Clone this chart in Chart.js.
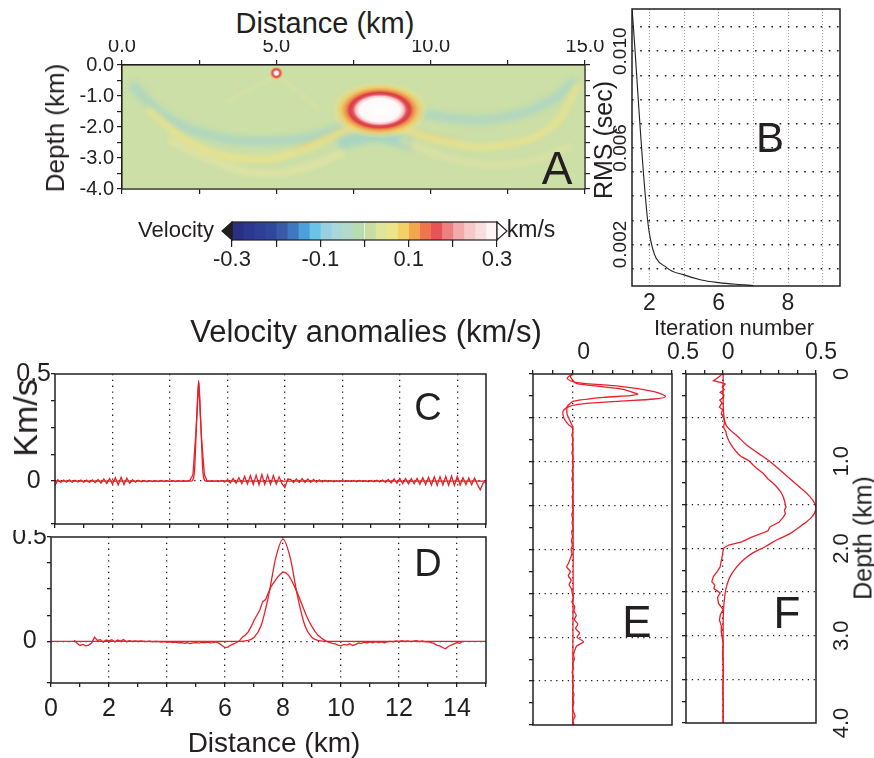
<!DOCTYPE html>
<html><head><meta charset="utf-8">
<script src="https://cdn.jsdelivr.net/npm/chart.js@4"></script>
<style>
body{margin:0;background:#fff;width:874px;height:758px;position:relative;overflow:hidden;font-family:'Liberation Sans',Arial,sans-serif;color:#231f20}
canvas{position:absolute}
.t{position:absolute;white-space:nowrap;line-height:1}
</style></head><body>
<canvas id="cA" width="610" height="160" style="left:0;top:40px"></canvas>
<canvas id="cCB" width="440" height="70" style="left:130px;top:200px"></canvas>
<canvas id="cB" width="284" height="340" style="left:590px;top:0"></canvas>
<canvas id="cC" width="500" height="170" style="left:0;top:360px"></canvas>
<canvas id="cD" width="500" height="228" style="left:0;top:530px"></canvas>
<canvas id="cE" width="180" height="400" style="left:520px;top:340px"></canvas>
<canvas id="cF" width="194" height="400" style="left:680px;top:340px"></canvas>
<script>
// ---------------- DATA ----------------
// Panel A: migrated velocity image features (km, depth km)
const anomX = [8.35, 5.0];
const anomD = [-1.45, -0.26];
const arcLeftTealX = [0.3, 1.4, 3.0, 4.6, 6.2, 7.3];
const arcLeftTealD = [-0.6, -1.65, -2.3, -2.45, -2.3, -1.95];
const arcLeftYellowX = [0.8, 2.4, 4.3, 5.8, 6.8, 7.6];
const arcLeftYellowD = [-1.4, -2.6, -3.05, -2.75, -2.3, -1.9];
const arcLeftLowX = [1.5, 3.0, 4.5, 6.0, 7.2];
const arcLeftLowD = [-2.4, -3.1, -3.5, -3.3, -2.8];
const arcRightYellowX = [8.7, 10.6, 12.2, 13.9, 14.8];
const arcRightYellowD = [-1.95, -2.5, -2.6, -2.0, -0.6];
const arcRightTealX = [9.6, 11.0, 12.3, 13.8, 14.7];
const arcRightTealD = [-1.55, -1.75, -1.7, -1.2, -0.5];
const arcRightLowX = [9.0, 11.0, 13.0, 14.6];
const arcRightLowD = [-2.4, -3.1, -3.15, -2.6];
const underTealX = [7.0, 8.2, 9.4];
const underTealD = [-2.55, -2.3, -2.55];
const smallLeftX = [5.0, 4.1, 3.3];
const smallLeftD = [-0.35, -0.8, -1.25];
const smallRightX = [5.0, 5.7, 6.4];
const smallRightD = [-0.35, -0.85, -1.45];
const streakLX = [5.6, 6.6, 7.5];
const streakLD = [-2.75, -2.35, -1.95];
const streakRX = [8.9, 9.8, 10.8];
const streakRD = [-2.0, -2.25, -2.45];

// Colour bar (km/s)
const cbEdges = [-0.3,-0.275,-0.25,-0.225,-0.2,-0.175,-0.15,-0.125,-0.1,-0.075,-0.05,-0.025,0,0.025,0.05,0.075,0.1,0.125,0.15,0.175,0.2,0.225,0.25,0.275,0.3];
const cbColors = ['#2a2f86','#2c3790','#2e4096','#30489c','#3a5aa8','#3f78be','#4aa0d8','#6cc3ea','#98d0e0','#aad7d8','#b3dac6','#b8dbb0','#c6dea4','#dfe59a','#eee58a','#f3d06a','#f4a54e','#ef7450','#e85358','#ee8080','#f3aaaa','#f6c8c8','#f9dede','#fdf4f4'];
const cbTickLabels = ['-0.3','-0.1','0.1','0.3'];

// Panel B: RMS vs iteration
const bIter = [1, 2, 3, 4, 5, 6, 7, 8];
const bRms = [0.0118, 0.00247, 0.00104, 0.00074, 0.00053, 0.00042, 0.00035, 0.0003];
const bTickValues = [2, 6, 10];
const bTickLabels = ['2', '6', '8'];
const bYLabelValues = [0.002, 0.006, 0.010];
const bYLabels = ['0.002', '0.006', '0.010'];

// Panel C: horizontal profile through small anomaly (km/s), 0..15 km every 0.1 km
const cStart = 0, cStep = 0.1;
const cRec = [
 -0.02, 0.006,-0.006, 0.005,-0.005, 0.006,-0.005, 0.004,-0.004, 0.005,
 -0.005, 0.005,-0.006, 0.006,-0.007, 0.008,-0.009, 0.01,-0.011, 0.012,
 -0.014, 0.016,-0.018, 0.018,-0.016, 0.014,-0.01, 0.007,-0.005, 0.004,
 -0.003, 0.003,-0.003, 0.002,-0.002, 0.002,-0.002, 0.003,-0.002, 0.002,
 -0.002, 0.002,-0.002, 0.002,-0.001, 0.001, 0.0, 0.005, 0.03, 0.22,
 0.46, 0.2, 0.03, 0.0, 0.001,-0.001, 0.001,-0.002, 0.003,-0.004,
 0.006,-0.008, 0.012,-0.01, 0.016,-0.012, 0.022,-0.014, 0.026,-0.016,
 0.028,-0.017, 0.03,-0.016, 0.028,-0.015, 0.026,-0.014, 0.02,-0.012,
 -0.03, 0.01, 0.008,-0.006, 0.01,-0.006, 0.012,-0.006, 0.01,-0.005,
 0.008,-0.005, 0.006,-0.004, 0.004,-0.003, 0.003,-0.003, 0.002,-0.002,
 0.002,-0.002, 0.002,-0.002, 0.003,-0.003, 0.003,-0.002, 0.002,-0.003,
 0.003,-0.003, 0.004,-0.004, 0.005,-0.006, 0.008,-0.008, 0.01,-0.01,
 0.012,-0.012, 0.012,-0.013, 0.012,-0.012, 0.013,-0.014, 0.016,-0.016,
 0.018,-0.018, 0.02,-0.02, 0.02,-0.018, 0.022,-0.02, 0.024,-0.02,
 0.022,-0.018, 0.016,-0.016, 0.014,-0.016, 0.014,-0.015,-0.04,-0.01,
 0.0];
const cTrueX = [0, 4.75, 4.85, 4.92, 5.0, 5.08, 5.15, 5.25, 15];
const cTrueV = [0, 0, 0.04, 0.25, 0.47, 0.25, 0.04, 0, 0];

// Panel D: horizontal profile through large anomaly
const dTrueX = [0, 6.5, 6.75, 7.0, 7.25, 7.5, 7.75, 8.0, 8.25, 8.5, 8.75, 9.0, 9.25, 9.5, 15];
const dTrueV = [0, 0, 0.003, 0.018, 0.077, 0.216, 0.40, 0.49, 0.40, 0.216, 0.077, 0.018, 0.003, 0, 0];
const dStart = 0.8, dStep = 0.1;
const dRec = [
 0.005,-0.01,-0.02,-0.015,-0.022,-0.018,-0.008, 0.02, 0.004, 0.008,-0.004, 0.006,
 0.002, 0.007,-0.003, 0.006, 0.001, 0.008,-0.002, 0.003, 0.0, 0.002,
 -0.001, 0.002, 0.0,-0.002, 0.001,-0.003, 0.0,-0.002,-0.004,-0.002,
 -0.005,-0.003,-0.006,-0.004,-0.008,-0.006,-0.01,-0.007,-0.011,-0.008,
 -0.006,-0.009,-0.005,-0.007,-0.004,-0.008,-0.006,-0.003,-0.01,-0.02,
 -0.03,-0.028,-0.018,-0.012,-0.006, 0.002, 0.02, 0.03, 0.045, 0.07,
 0.1, 0.125, 0.15, 0.19, 0.2, 0.235, 0.265, 0.285, 0.305, 0.32,
 0.332, 0.328, 0.315, 0.29, 0.262, 0.23, 0.195, 0.16, 0.125, 0.095,
 0.07, 0.048, 0.03, 0.018, 0.008, 0.0,-0.005,-0.01,-0.012,-0.018,
 -0.022,-0.015,-0.018,-0.012,-0.02,-0.016,-0.008,-0.01,-0.004,-0.008,
 -0.003,-0.007,-0.002,-0.006,-0.003,-0.007,-0.002, 0.0,-0.003, 0.002,
 -0.002, 0.003,-0.001, 0.002,-0.002, 0.001, 0.003,-0.002, 0.002,-0.003,
 -0.002,-0.006,-0.01,-0.018,-0.022,-0.03,-0.036,-0.025,-0.018,-0.012,
 -0.006,-0.01, 0.0];

// Panel E: vertical profile at 5 km (depth km, km/s)
const eTrueD = [0, 0.05, 0.095, 0.14, 0.2, 0.255, 0.285, 0.31, 0.35, 0.41, 0.5, 0.58, 0.62, 4.0];
const eTrueV = [-0.003, -0.028, 0.013, 0.24, 0.41, 0.467, 0.41, 0.24, 0.02, -0.045, -0.045, -0.02, 0, 0];
const eRecTopD = [0, 0.027, 0.084, 0.11, 0.17, 0.228, 0.247, 0.266, 0.31, 0.37, 0.46, 0.54, 0.6];
const eRecTopV = [0, -0.012, 0.005, 0.02, 0.24, 0.327, 0.29, 0.156, 0.005, -0.028, -0.028, -0.012, 0];
const eTailStart = 0.65, eTailStep = 0.05;
const eRecTail = [
 0.0,-0.004, 0.002,-0.003, 0.001,-0.004, 0.002,-0.002, 0.003,-0.003,
 0.001,-0.004, 0.002,-0.002, 0.003,-0.003, 0.001,-0.002, 0.002,-0.004,
 0.0,-0.003, 0.002,-0.005,-0.001,-0.006,-0.002,-0.008,-0.004,-0.012,
 -0.02,-0.03,-0.012,-0.022,-0.008,-0.018,-0.006,-0.002, 0.004,-0.004,
 0.01, 0.006, 0.018, 0.008, 0.026, 0.014, 0.035, 0.022, 0.055, 0.02,
 0.01, 0.004, 0.008, 0.0, 0.004,-0.003, 0.003,-0.002, 0.004, 0.0,
 0.006, 0.002, 0.005, 0.0, 0.004, 0.012, 0.002, 0.006];

// Panel F: vertical profile at 8 km
const fTrueD = [0, 0.3, 0.5, 0.6, 0.72, 0.82, 0.91, 1.0, 1.1, 1.2, 1.3, 1.4, 1.49, 1.55, 1.64, 1.74, 1.83, 1.9, 1.98, 2.05, 2.13, 2.22, 2.32, 2.42, 2.51, 2.7, 3.0, 4.0];
const fTrueV = [0, 0, 0.005, 0.02, 0.08, 0.13, 0.19, 0.25, 0.306, 0.36, 0.414, 0.465, 0.495, 0.5, 0.477, 0.42, 0.36, 0.29, 0.226, 0.16, 0.11, 0.07, 0.038, 0.02, 0.011, 0.002, 0, 0];
const fRecD = [0, 0.03, 0.076, 0.1, 0.114, 0.15, 0.18, 0.21, 0.24, 0.267, 0.3, 0.33, 0.38, 0.41, 0.457, 0.5, 0.55, 0.61, 0.66, 0.7, 0.76, 0.8, 0.85, 0.914, 0.95, 0.99, 1.04, 1.08, 1.14, 1.2, 1.25, 1.295, 1.35, 1.41, 1.45, 1.5, 1.524, 1.56, 1.6, 1.64, 1.7, 1.75, 1.8, 1.87, 1.924, 1.96, 1.99, 2.02, 2.08, 2.14, 2.21, 2.26, 2.32, 2.38, 2.42, 2.46, 2.51, 2.56, 2.63, 2.7, 2.76, 2.82, 2.9, 2.96, 3.09, 3.2, 3.4, 3.6, 3.8, 4.0];
const fRecV = [-0.007, -0.02, -0.052, -0.01, 0.011, -0.005, 0.006, -0.016, 0.004, 0.002, -0.018, -0.006, -0.02, -0.003, -0.01, 0.002, 0.008, 0.002, 0.015, 0.018, 0.029, 0.04, 0.055, 0.08, 0.1, 0.136, 0.16, 0.18, 0.217, 0.24, 0.268, 0.289, 0.31, 0.324, 0.33, 0.335, 0.339, 0.33, 0.335, 0.324, 0.3, 0.253, 0.24, 0.154, 0.1, 0.03, 0.005, 0, -0.004, -0.01, -0.016, -0.03, -0.052, -0.061, -0.045, -0.05, -0.016, -0.03, -0.025, 0, -0.015, -0.02, -0.008, -0.01, 0, -0.003, 0.002, -0.002, 0.001, 0.0];
const depthLabelValues = [0, 1, 2, 3, 4];
const depthLabels = ['0', '1.0', '2.0', '3.0', '4.0'];

// ---------------- HELPERS ----------------
const INK = '#231f20', RED = '#e8202a';
Chart.defaults.font.family = "'Liberation Sans', Arial, sans-serif";
Chart.defaults.color = INK;
Chart.defaults.animation = false;
Chart.defaults.events = [];
Chart.defaults.plugins.legend.display = false;
Chart.defaults.plugins.tooltip.enabled = false;

function fixed(size) {
  return function (s) {
    if (s.isHorizontal()) s.height = size; else s.width = size;
    s.paddingTop = 0; s.paddingBottom = 0; s.paddingLeft = 0; s.paddingRight = 0;
  };
}
const xy = (xs, ys) => xs.map((x, i) => ({x: x, y: ys[i]}));
const vp = (ds, vs) => ds.map((d, i) => ({x: vs[i], y: d}));
const near = (a, b) => Math.abs(a - b) < 1e-9;

const framePlugin = {
  id: 'frame',
  afterDatasetsDraw(chart, args, o) {
    if (!o || !o.on) return;
    const a = chart.chartArea, ctx = chart.ctx;
    ctx.save(); ctx.strokeStyle = INK; ctx.lineWidth = o.w || 1.5;
    ctx.strokeRect(a.left, a.top, a.right - a.left, a.bottom - a.top);
    ctx.restore();
  }
};
const rotLabels = {
  id: 'rotLabels',
  afterDraw(chart, args, o) {
    if (!o || !o.values) return;
    const ctx = chart.ctx, sc = chart.scales[o.scale], a = chart.chartArea;
    const x = o.side === 'right' ? a.right + o.dx : a.left - o.dx;
    ctx.save(); ctx.font = o.font; ctx.fillStyle = INK; ctx.textAlign = 'center'; ctx.textBaseline = 'middle';
    o.values.forEach((v, i) => {
      ctx.save(); ctx.translate(x, sc.getPixelForValue(v)); ctx.rotate(-Math.PI / 2);
      ctx.fillText(o.labels[i], 0, 0); ctx.restore();
    });
    ctx.restore();
  }
};
Chart.register(framePlugin, rotLabels);

function addText(txt, cx, cy, size, rot) {
  const d = document.createElement('div');
  d.className = 't'; d.textContent = txt;
  d.style.fontSize = size + 'px'; d.style.left = cx + 'px'; d.style.top = cy + 'px';
  d.style.transform = 'translate(-50%,-50%) rotate(' + (rot || 0) + 'deg)';
  document.body.appendChild(d);
}

// ---------------- PANEL A ----------------
function ellipseSprite(w, h, stops) {
  const c = document.createElement('canvas'); c.width = w; c.height = h;
  const g = c.getContext('2d');
  g.translate(w / 2, h / 2); g.scale(1, h / w);
  const r = w / 2;
  const grad = g.createRadialGradient(0, 0, 0, 0, 0, r);
  stops.forEach(s => grad.addColorStop(s[0], s[1]));
  g.fillStyle = grad; g.beginPath(); g.arc(0, 0, r, 0, Math.PI * 2); g.fill();
  return c;
}
const bigSprite = ellipseSprite(100, 58, [[0, '#ffffff'], [0.4, '#fff8f8'], [0.48, '#f6c4c4'], [0.54, '#e2505a'], [0.6, '#d83c48'], [0.67, '#ee8a4a'], [0.78, 'rgba(244,200,95,0.8)'], [0.9, 'rgba(238,225,135,0.4)'], [1, 'rgba(230,225,150,0)']]);
const smallSprite = ellipseSprite(14, 14, [[0, '#ffffff'], [0.3, '#fff4f4'], [0.45, '#e86060'], [0.6, '#dd4048'], [0.78, 'rgba(240,160,90,0.75)'], [1, 'rgba(240,210,120,0)']]);

const aBg = {
  id: 'aBg',
  beforeDatasetsDraw(chart) {
    const a = chart.chartArea, ctx = chart.ctx;
    ctx.save(); ctx.fillStyle = '#cbdfa7'; ctx.fillRect(a.left, a.top, a.right - a.left, a.bottom - a.top); ctx.restore();
  },
  beforeDatasetDraw(chart, args) {
    chart.ctx.save();
    if (args.index >= 2) chart.ctx.filter = 'blur(2.5px)';
  },
  afterDatasetDraw(chart) { chart.ctx.restore(); }
};
function band(xs, ds, color, w, ord) {
  return {data: xy(xs, ds), showLine: true, borderColor: color, borderWidth: w, pointRadius: 0, tension: 0.45, clip: 0, order: ord};
}
new Chart(document.getElementById('cA'), {
  type: 'scatter',
  data: {datasets: [
    {data: xy(anomX.slice(0, 1), anomD.slice(0, 1)), pointStyle: bigSprite, pointRadius: 5, clip: 0, order: 0},
    {data: xy(anomX.slice(1), anomD.slice(1)), pointStyle: smallSprite, pointRadius: 5, clip: 0, order: 0},
    band(arcLeftTealX, arcLeftTealD, 'rgba(168,212,198,0.75)', 10, 3),
    band(arcRightTealX, arcRightTealD, 'rgba(168,212,198,0.7)', 10, 3),
    band(underTealX, underTealD, 'rgba(160,210,200,0.8)', 13, 3),
    band(arcLeftLowX, arcLeftLowD, 'rgba(232,228,160,0.6)', 8, 2),
    band(arcRightLowX, arcRightLowD, 'rgba(232,228,160,0.5)', 8, 2),
    band(arcLeftYellowX, arcLeftYellowD, 'rgba(238,226,135,0.8)', 7, 1),
    band(arcRightYellowX, arcRightYellowD, 'rgba(238,226,135,0.75)', 7, 1),
    band(smallLeftX, smallLeftD, 'rgba(232,228,160,0.7)', 2.5, 1),
    band(smallRightX, smallRightD, 'rgba(232,228,160,0.7)', 2.5, 1),
    band(streakLX, streakLD, 'rgba(232,160,80,0.6)', 2, 1),
    band(streakRX, streakRD, 'rgba(232,175,90,0.5)', 2, 1)
  ]},
  options: {
    responsive: false, devicePixelRatio: 1,
    layout: {padding: 0},
    plugins: {frame: {on: true, w: 1.2}},
    scales: {
      x: {type: 'linear', position: 'top', min: 0, max: 15,
        ticks: {stepSize: 2.5, autoSkip: false, maxRotation: 0, padding: 2, font: {size: 20},
          callback: v => (v % 5 === 0 ? v.toFixed(1) : '')},
        grid: {drawOnChartArea: false, tickLength: 5, color: INK, lineWidth: 1.2},
        border: {color: INK, width: 1.2}, afterFit: fixed(25)},
      x2: {type: 'linear', position: 'bottom', min: 0, max: 15,
        ticks: {stepSize: 2.5, display: false},
        grid: {drawOnChartArea: false, tickLength: 5, color: INK, lineWidth: 1.2},
        border: {color: INK, width: 1.2}, afterFit: fixed(11)},
      y: {type: 'linear', position: 'left', min: -4, max: 0,
        ticks: {stepSize: 0.5, autoSkip: false, padding: 3, font: {size: 20},
          callback: v => (Number.isInteger(v) ? (v === 0 ? '0.0' : v.toFixed(1)) : '')},
        grid: {drawOnChartArea: false, tickLength: 5, color: INK, lineWidth: 1.2},
        border: {color: INK, width: 1.2}, afterFit: fixed(122)},
      y2: {type: 'linear', position: 'right', min: -4, max: 0,
        ticks: {stepSize: 0.5, display: false},
        grid: {drawOnChartArea: false, tickLength: 5, color: INK, lineWidth: 1.2},
        border: {color: INK, width: 1.2}, afterFit: fixed(25)}
    }
  },
  plugins: [aBg]
});

// ---------------- COLOUR BAR ----------------
const cbTri = {
  id: 'cbTri',
  afterDraw(chart) {
    const a = chart.chartArea, ctx = chart.ctx, m = (a.top + a.bottom) / 2;
    ctx.save(); ctx.lineWidth = 1.2; ctx.strokeStyle = INK;
    ctx.beginPath(); ctx.moveTo(a.left, a.top); ctx.lineTo(a.left - 10, m); ctx.lineTo(a.left, a.bottom); ctx.closePath();
    ctx.fillStyle = INK; ctx.fill(); ctx.stroke();
    ctx.beginPath(); ctx.moveTo(a.right, a.top); ctx.lineTo(a.right + 10, m); ctx.lineTo(a.right, a.bottom); ctx.closePath();
    ctx.fillStyle = '#fff'; ctx.fill(); ctx.stroke();
    ctx.restore();
  }
};
new Chart(document.getElementById('cCB'), {
  type: 'bar',
  data: {labels: ['v'], datasets: cbColors.map((c, i) => ({
    data: [[cbEdges[i], cbEdges[i + 1]]], backgroundColor: c, borderWidth: 0,
    grouped: false, barPercentage: 1, categoryPercentage: 1}))},
  options: {
    indexAxis: 'y', responsive: false, devicePixelRatio: 1,
    layout: {padding: {left: 102, right: 73, top: 22, bottom: 0}},
    plugins: {frame: {on: true, w: 1.2}},
    scales: {
      x: {type: 'linear', min: -0.3, max: 0.3, position: 'bottom',
        ticks: {stepSize: 0.1, autoSkip: false, maxRotation: 0, padding: 0, font: {size: 22},
          callback: v => { const r = Math.round(v * 10); return r % 2 !== 0 ? cbTickLabels[(r + 3) / 2] : ''; }},
        grid: {drawOnChartArea: false, tickLength: 7, color: INK, lineWidth: 1.2},
        border: {display: false}, afterFit: fixed(30)},
      y: {display: false}
    }
  },
  plugins: [cbTri]
});

// ---------------- PANEL B ----------------
new Chart(document.getElementById('cB'), {
  type: 'scatter',
  data: {datasets: [{data: xy(bIter, bRms), showLine: true, borderColor: INK, borderWidth: 1.1, pointRadius: 0, cubicInterpolationMode: 'monotone', clip: 0}]},
  options: {
    responsive: false, devicePixelRatio: 1,
    layout: {padding: {left: 0, right: 34, top: 9, bottom: 0}},
    plugins: {frame: {on: true, w: 1.5},
      rotLabels: {scale: 'y', values: bYLabelValues, labels: bYLabels, side: 'left', dx: 11, font: "19px 'Liberation Sans', Arial, sans-serif"}},
    scales: {
      x: {type: 'linear', min: 1, max: 13,
        ticks: {stepSize: 1, autoSkip: false, maxRotation: 0, padding: 4, font: {size: 23},
          callback: v => { const i = bTickValues.indexOf(v); return i >= 0 ? bTickLabels[i] : ''; }},
        grid: {drawTicks: false, lineWidth: 1,
          color: c => (c.tick && c.tick.value % 2 === 0 ? '#a0a0a0' : 'transparent')},
        border: {display: false, dash: [1, 2]}, afterFit: fixed(54)},
      y: {type: 'linear', min: 0.00028, max: 0.01175,
        ticks: {stepSize: 0.001, display: false},
        grid: {drawTicks: false, lineWidth: 1.6,
          color: c => (c.tick && c.tick.value > 0.0009 && c.tick.value < 0.0115 ? INK : 'transparent')},
        border: {display: false, dash: [1.6, 6.6]}, afterFit: fixed(42)}
    }
  }
});

// ---------------- PANELS C & D ----------------
function seqX(start, step, n) { const a = []; for (let i = 0; i < n; i++) a.push(Math.round((start + i * step) * 100) / 100); return a; }
function profOptions(leftW, pad, bottomW, showX) {
  return {
    responsive: false, devicePixelRatio: 1,
    layout: {padding: pad},
    plugins: {frame: {on: true, w: 1.5}},
    scales: {
      x: {type: 'linear', min: 0, max: 15, position: 'bottom',
        ticks: {stepSize: 1, autoSkip: false, maxRotation: 0, display: showX, padding: 7, font: {size: 25},
          callback: v => (v % 2 === 0 && v < 15 ? String(v) : '')},
        grid: {tickLength: 4, lineWidth: 1.3, tickColor: INK,
          color: c => (c.tick && c.tick.value % 2 === 0 && c.tick.value > 0 && c.tick.value < 15 ? INK : 'transparent')},
        border: {display: false, dash: [1.3, 4.5]}, afterFit: fixed(bottomW)},
      y: {type: 'linear', min: -0.2, max: 0.5,
        ticks: {stepSize: 0.125, autoSkip: false, crossAlign: 'center', padding: 0, font: {size: 25},
          callback: v => (v === 0 ? '0' : (near(v, 0.5) ? '0.5' : ''))},
        grid: {tickLength: 4, lineWidth: 1.3, tickColor: INK,
          color: c => (c.tick && c.tick.value === 0 ? INK : 'transparent')},
        border: {display: false, dash: [1.3, 4.5]}, afterFit: fixed(leftW)}
    }
  };
}
const lineDs = (data) => ({data: data, showLine: true, borderColor: RED, borderWidth: 1.3, pointRadius: 0, clip: 0});
new Chart(document.getElementById('cC'), {
  type: 'scatter',
  data: {datasets: [
    lineDs(xy(seqX(cStart, cStep, cRec.length), cRec)),
    Object.assign(lineDs(xy(cTrueX, cTrueV)), {cubicInterpolationMode: 'monotone'})
  ]},
  options: profOptions(55, {left: 0, right: 14, top: 14, bottom: 0}, 6, false)
});
new Chart(document.getElementById('cD'), {
  type: 'scatter',
  data: {datasets: [
    lineDs(xy(seqX(dStart, dStep, dRec.length), dRec)),
    Object.assign(lineDs(xy(dTrueX, dTrueV)), {cubicInterpolationMode: 'monotone'})
  ]},
  options: profOptions(51, {left: 0, right: 14, top: 7, bottom: 0}, 75, true)
});

// ---------------- PANELS E & F ----------------
function vertOptions(leftW, rightW, pad, labelShift, rot) {
  const sc = {
    x: {type: 'linear', position: 'top', min: -0.2, max: 0.5,
      ticks: {stepSize: 0.1, autoSkip: false, maxRotation: 0, padding: 4, labelOffset: labelShift, font: {size: 23},
        callback: v => (near(v, 0) ? '0' : (near(v, 0.5) ? '0.5' : ''))},
      grid: {tickLength: 4, lineWidth: 1.3, tickColor: INK,
        color: c => (c.tick && near(c.tick.value, 0) ? INK : 'transparent')},
      border: {display: false, dash: [1.3, 4.5]}, afterFit: fixed(34)},
    y: {type: 'linear', position: 'left', min: 0, max: 4, reverse: true,
      ticks: {stepSize: 0.25, display: false},
      grid: {tickLength: 4, lineWidth: 1.3, tickColor: INK,
        color: c => (c.tick && c.tick.value % 0.5 === 0 && c.tick.value > 0 && c.tick.value < 4 ? INK : 'transparent')},
      border: {display: false, dash: [1.3, 4.5]}, afterFit: fixed(leftW)}
  };
  if (rightW) {
    sc.y2 = {type: 'linear', position: 'right', min: 0, max: 4, reverse: true,
      ticks: {display: false}, grid: {drawOnChartArea: false, drawTicks: false},
      border: {display: false}, afterFit: fixed(rightW)};
  }
  return {
    responsive: false, devicePixelRatio: 1,
    layout: {padding: pad},
    plugins: {frame: {on: true, w: 1.5}, rotLabels: rot || {}},
    scales: sc
  };
}
const eRecAll = vp(eRecTopD, eRecTopV).concat(vp(seqX(eTailStart, eTailStep, eRecTail.length), eRecTail));
new Chart(document.getElementById('cE'), {
  type: 'scatter',
  data: {datasets: [
    Object.assign(lineDs(vp(eTrueD, eTrueV)), {tension: 0.3}),
    Object.assign(lineDs(eRecAll), {tension: 0.2})
  ]},
  options: vertOptions(13, 0, {left: 0, right: 28, top: 0, bottom: 15}, 11)
});
new Chart(document.getElementById('cF'), {
  type: 'scatter',
  data: {datasets: [
    Object.assign(lineDs(vp(fTrueD, fTrueV)), {tension: 0.35}),
    lineDs(vp(fRecD, fRecV))
  ]},
  options: vertOptions(6, 58, {left: 0, right: 0, top: 0, bottom: 17}, 5,
    {scale: 'y', values: depthLabelValues, labels: depthLabels, side: 'right', dx: 26, font: "22px 'Liberation Sans', Arial, sans-serif"})
});

// ---------------- TEXT ----------------
addText('Distance (km)', 325, 23, 29, 0);
addText('Depth (km)', 55, 128, 26, -90);
addText('A', 557, 168, 46, 0);
addText('Velocity', 176, 230, 22, 0);
addText('km/s', 531, 229, 23, 0);
addText('RMS (sec)', 603, 140, 25, -90);
addText('B', 770, 138, 42, 0);
addText('Iteration number', 734, 328, 22, 0);
addText('Velocity anomalies (km/s)', 366, 331, 31, 0);
addText('Km/s', 25, 418, 34, -90);
addText('C', 428, 407, 38, 0);
addText('D', 428, 563, 38, 0);
addText('Distance (km)', 274, 743, 28, 0);
addText('E', 637, 622, 44, 0);
addText('F', 787, 613, 44, 0);
addText('Depth (km)', 863, 538, 25, -90);
</script>
</body></html>
